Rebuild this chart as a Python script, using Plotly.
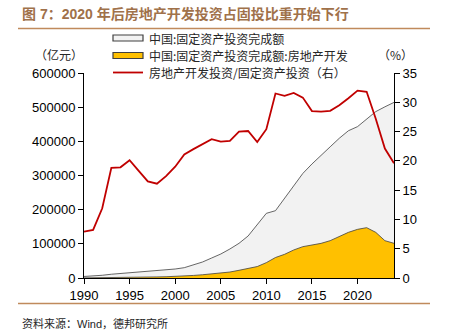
import plotly.graph_objects as go

years = list(range(1990, 2025))
fai_total = [4500, 5600, 8000, 11000, 13000, 14500, 16500, 18500, 20500, 22500,
             26300, 30200, 38000, 46800, 58500, 70200, 84900, 101500, 123000, 155100,
             189300, 197000, 233000, 272000, 306000, 333700, 360000, 384000, 409000, 431000,
             443000, 465000, 487000, 501000, 514000]
fai_realestate = [350, 450, 900, 1900, 2300, 2700, 2900, 3000, 3200, 3700,
                  4500, 5800, 7500, 9500, 12000, 14500, 17500, 22500, 28000, 33500,
                  45000, 60000, 69300, 82000, 91700, 95600, 101400, 109300, 121000, 133600,
                  142400, 147300, 133600, 109300, 101500]
re_ratio = [7.9, 8.2, 11.9, 18.8, 18.9, 20.1, 18.3, 16.5, 16.1, 17.4,
            19.0, 21.1, 22.0, 22.9, 23.7, 23.3, 23.4, 25.0, 25.1, 23.2,
            25.4, 31.5, 31.1, 31.6, 30.8, 28.5, 28.4, 28.55, 29.5, 30.7,
            32.0, 31.8, 27.2, 22.1, 19.6]

names = ["中国:固定资产投资完成额", "中国:固定资产投资完成额:房地产开发", "房地产开发投资/固定资产投资（右）"]
title_text = "图 7：2020 年后房地产开发投资占固投比重开始下行"
source_text = "资料来源：Wind，德邦研究所"

W, H = 449, 331
L, R, T, B = 84, 394, 73, 278
CJK = "Noto Sans CJK SC"
LAT = "Liberation Sans, Arial"


def px(x):
    return (x - L) / (R - L)


def py(y):
    return (B - y) / (B - T)


fig = go.Figure()
fig.add_trace(go.Scatter(x=years, y=fai_total, name=names[0], mode="lines",
                         fill="tozeroy", fillcolor="#F2F2F2",
                         line=dict(color="#404040", width=0.8), showlegend=False))
fig.add_trace(go.Scatter(x=years, y=fai_realestate, name=names[1], mode="lines",
                         fill="tozeroy", fillcolor="#FFC000",
                         line=dict(color="#404040", width=0.8), showlegend=False))
fig.add_trace(go.Scatter(x=years, y=re_ratio, name=names[2], mode="lines", yaxis="y2",
                         line=dict(color="#C00000", width=1.8), showlegend=False))

shapes = []
annotations = []
# manual legend
leg_rows = [38, 55.5, 72.5]
shapes.append(dict(type="rect", xref="paper", yref="paper",
                   x0=px(113), x1=px(143), y0=py(leg_rows[0] - 3), y1=py(leg_rows[0] + 3),
                   fillcolor="#F2F2F2", line=dict(color="#404040", width=1.2)))
shapes.append(dict(type="rect", xref="paper", yref="paper",
                   x0=px(113), x1=px(143), y0=py(leg_rows[1] - 3), y1=py(leg_rows[1] + 3),
                   fillcolor="#FFC000", line=dict(color="#404040", width=1.2)))
shapes.append(dict(type="line", xref="paper", yref="paper",
                   x0=px(113), x1=px(143), y0=py(leg_rows[2]), y1=py(leg_rows[2]),
                   line=dict(color="#C00000", width=1.8)))
for n, yy in zip(names, leg_rows):
    annotations.append(dict(text=n, xref="paper", yref="paper", x=px(148), y=py(yy),
                            xanchor="left", yanchor="middle", showarrow=False, borderpad=0,
                            font=dict(family=CJK, size=12, color="#262626")))

# title and separators
annotations.append(dict(text="<b>" + title_text + "</b>", xref="paper", yref="paper",
                        x=px(20), y=py(14), xanchor="left", yanchor="middle", showarrow=False,
                        font=dict(family=LAT + ", " + CJK, size=14, color="#A0714A")))
shapes.append(dict(type="line", xref="paper", yref="paper", x0=px(18), x1=px(430),
                   y0=py(28.5), y1=py(28.5), line=dict(color="#C08A5C", width=1.5)))
shapes.append(dict(type="line", xref="paper", yref="paper", x0=px(18), x1=px(430),
                   y0=py(303.5), y1=py(303.5), line=dict(color="#C08A5C", width=1.5)))
annotations.append(dict(text=source_text, xref="paper", yref="paper",
                        x=px(20), y=py(323), xanchor="left", yanchor="middle", showarrow=False,
                        font=dict(family=LAT + ", " + CJK, size=11, color="#262626")))
annotations.append(dict(text="（亿元）", xref="paper", yref="paper",
                        x=px(59), y=py(55), xanchor="center", yanchor="middle", showarrow=False,
                        font=dict(family=CJK, size=12, color="#262626")))
annotations.append(dict(text="（%）", xref="paper", yref="paper",
                        x=px(396), y=py(55), xanchor="center", yanchor="middle", showarrow=False,
                        font=dict(family=CJK, size=12, color="#262626")))

fig.update_layout(
    width=W, height=H,
    margin=dict(l=L, r=W - R, t=T, b=H - B, pad=0),
    paper_bgcolor="white", plot_bgcolor="white",
    showlegend=False,
    shapes=shapes, annotations=annotations,
    xaxis=dict(range=[1990, 2024], tickvals=[1990, 1995, 2000, 2005, 2010, 2015, 2020],
               showgrid=False, zeroline=False, showline=True, linecolor="black", linewidth=1,
               ticks="outside", ticklen=5, tickcolor="black",
               tickfont=dict(family=LAT, size=13, color="black")),
    yaxis=dict(range=[0, 600000], tickvals=[0, 100000, 200000, 300000, 400000, 500000, 600000],
               tickformat="d",
               showgrid=False, zeroline=False, showline=True, linecolor="black", linewidth=1,
               ticks="outside", ticklen=5, tickcolor="black",
               tickfont=dict(family=LAT, size=13, color="black")),
    yaxis2=dict(range=[0, 35], tickvals=[0, 5, 10, 15, 20, 25, 30, 35], overlaying="y", side="right",
                showgrid=False, zeroline=False, showline=True, linecolor="black", linewidth=1,
                ticks="outside", ticklen=5, tickcolor="black",
                tickfont=dict(family=LAT, size=13, color="black")),
)

fig.write_html("out.html")
